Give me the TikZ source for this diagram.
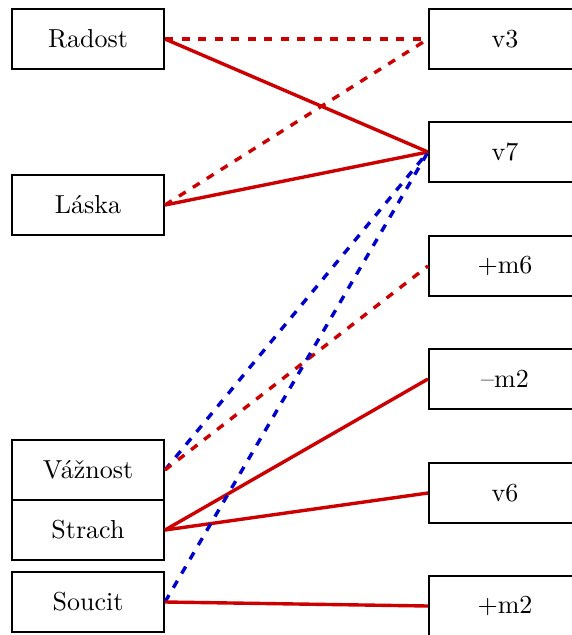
\documentclass[tikz,border=0pt]{standalone}
\usepackage{graphicx}
\definecolor{myred}{RGB}{204,0,0}
\definecolor{myblue}{RGB}{0,0,204}
\newcommand{\bigt}[1]{\scalebox{2.6}{#1}}
\tikzset{
  box/.style={draw=black, line width=2pt, minimum width=152pt, minimum height=60pt, inner sep=0pt, font=\fontsize{10}{12}\selectfont},
  redsolid/.style={draw=myred, line width=3.4pt},
  reddash/.style={draw=myred, line width=3.4pt, dash pattern=on 8pt off 8.5pt},
  bluedash/.style={draw=myblue, line width=3.4pt, dash pattern=on 8pt off 8.5pt},
}
\begin{document}
\begin{tikzpicture}[x=1pt,y=-1pt]
\useasboundingbox (0,0) rectangle (571,635);
\node[box] (radost) at (88,39) {\bigt{Radost}};
\node[box] (laska) at (88,205) {\bigt{Láska}};
\node[box] (vaznost) at (88,470) {\bigt{Vážnost}};
\node[box] (strach) at (88,530) {\bigt{Strach}};
\node[box] (soucit) at (88,602) {\bigt{Soucit}};
\node[box] (v3) at (505,39) {\bigt{v3}};
\node[box] (v7) at (505,152) {\bigt{v7}};
\node[box] (pm6) at (505,266) {\bigt{+m6}};
\node[box] (mm2) at (505,379) {\bigt{\textendash m2}};
\node[box] (v6) at (505,493) {\bigt{v6}};
\node[box] (pm2) at (505,606) {\bigt{+m2}};
\draw[reddash] (radost.east) -- (v3.west);
\draw[redsolid] (radost.east) -- (v7.west);
\draw[reddash] (laska.east) -- (v3.west);
\draw[redsolid] (laska.east) -- (v7.west);
\draw[bluedash] (vaznost.east) -- (v7.west);
\draw[reddash] (vaznost.east) -- (pm6.west);
\draw[redsolid] (strach.east) -- (mm2.west);
\draw[redsolid] (strach.east) -- (v6.west);
\draw[bluedash] (soucit.east) -- (v7.west);
\draw[redsolid] (soucit.east) -- (pm2.west);
\end{tikzpicture}
\end{document}
